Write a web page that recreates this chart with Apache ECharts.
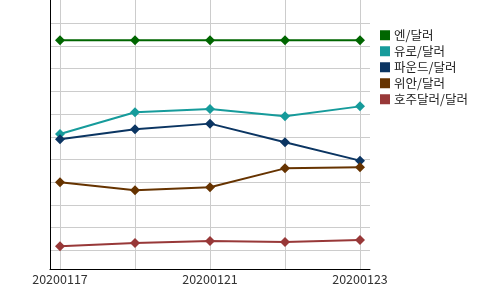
<!DOCTYPE html>
<html><head><meta charset="utf-8">
<script src="https://cdn.jsdelivr.net/npm/echarts@6/dist/echarts.min.js"></script>
<style>html,body{margin:0;padding:0;background:#fff}#c{width:500px;height:290px}</style>
</head><body><div id="c"></div>
<script>
const categories = ['20200117','20200120','20200121','20200122','20200123'];
const seriesNames = ['엔/달러','유로/달러','파운드/달러','위안/달러','호주달러/달러'];
const jpy = [9.25, 9.25, 9.25, 9.25, 9.25];
const eur = [5.12, 6.08, 6.22, 5.90, 6.34];
const gbp = [4.89, 5.33, 5.58, 4.76, 3.95];
const cny = [3.00, 2.64, 2.78, 3.61, 3.66];
const aud = [0.18, 0.32, 0.41, 0.37, 0.45];
const colors = ['#006600','#169b9b','#0b3562','#663300','#983838'];
const values = [jpy, eur, gbp, cny, aud];

const chart = echarts.init(document.getElementById('c'), null, {renderer:'canvas'});
const font = "'Noto Sans CJK KR', 'Noto Sans', sans-serif";
const hidden = {show:false};
chart.setOption({
  animation:false,
  grid:[
    {left:50, right:130, top:23.3, bottom:39.7},
    {left:60, right:140, top:0, bottom:20.5},
    {left:50, right:130, top:0, bottom:20.5}
  ],
  xAxis:[
    {gridIndex:0, type:'value', show:false},
    {gridIndex:1, type:'category', data:categories, boundaryGap:false,
      axisLine:hidden, axisTick:hidden,
      axisLabel:{interval:1, color:'#333', fontSize:12.5, fontFamily:font, margin:3},
      splitLine:{show:true, interval:0, lineStyle:{color:'#cccccc', width:1}}},
    {gridIndex:2, type:'value', axisLine:{show:true, onZero:false, lineStyle:{color:'#000', width:1}},
      axisTick:hidden, axisLabel:hidden, splitLine:hidden}
  ],
  yAxis:[
    {gridIndex:0, type:'value', min:0, max:10, interval:1, axisLine:hidden, axisTick:hidden, axisLabel:hidden,
      splitLine:{show:true, lineStyle:{color:'#cccccc', width:1}}},
    {gridIndex:1, type:'value', min:-0.846, max:11.026, axisLine:hidden, axisTick:hidden, axisLabel:hidden, splitLine:hidden},
    {gridIndex:2, type:'value', axisLine:{show:true, onZero:false, lineStyle:{color:'#000', width:1}},
      axisTick:hidden, axisLabel:hidden, splitLine:hidden}
  ],
  legend:{
    orient:'vertical', left:380, top:29, padding:0, itemWidth:10, itemHeight:10, itemGap:3.5,
    icon:'rect', data:seriesNames,
    textStyle:{fontSize:12.5, fontFamily:font, color:'#222', padding:[0,0,0,-1]}
  },
  series: seriesNames.map((n,i)=>({
    name:n, type:'line', xAxisIndex:1, yAxisIndex:1, data:values[i],
    symbol:'diamond', symbolSize:10, color:colors[i],
    lineStyle:{width:2, color:colors[i]}, itemStyle:{color:colors[i]}
  }))
});
</script></body></html>
